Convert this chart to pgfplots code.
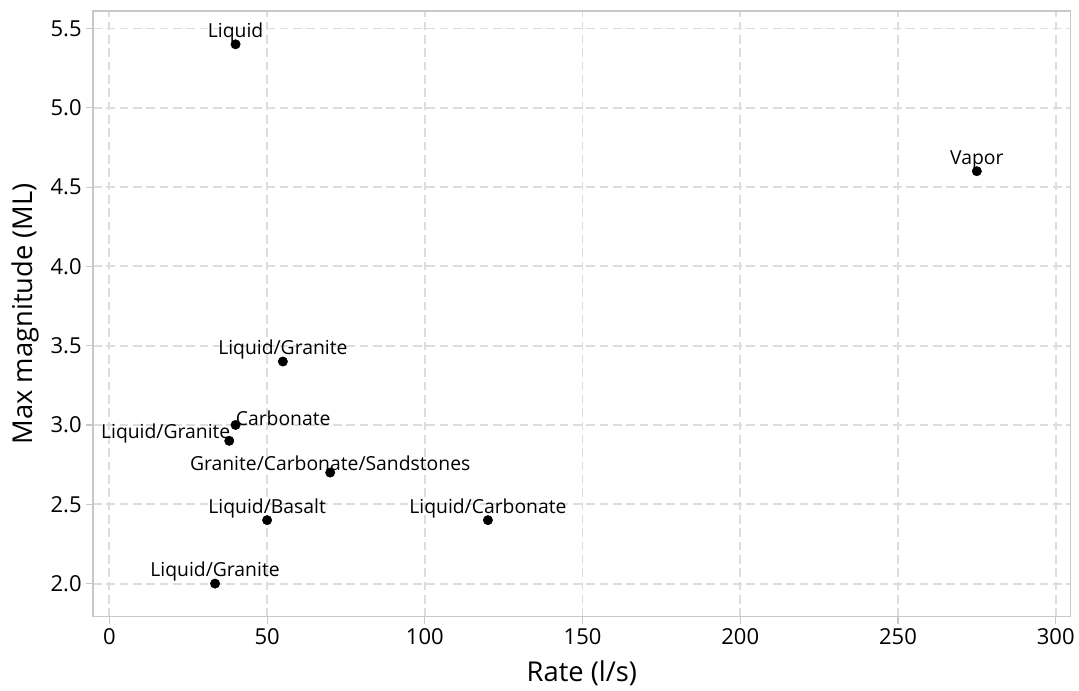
\documentclass[border=0pt]{standalone}
\usepackage{pgfplots}
\pgfplotsset{compat=1.18}
\usepackage{fontspec}
\setmainfont{Open Sans}

\definecolor{gridgray}{HTML}{DDDDDD}
\definecolor{framegray}{HTML}{C8C8C8}

\begin{document}
\begin{tikzpicture}[x=1pt,y=1pt]
\begin{axis}[
  scale only axis,
  width=733.5pt, height=454.5pt,
  xmin=-5.2, xmax=304.8,
  ymin=1.79, ymax=5.61,
  xtick={0,50,...,300},
  ytick={2.0,2.5,...,5.5},
  /pgf/number format/assume math mode=true,
  yticklabel style={/pgf/number format/.cd,fixed,fixed zerofill,precision=1},
  ticklabel style={font=\fontsize{16.5}{19}\selectfont, text=black},
  xlabel={Rate (l/s)},
  ylabel={Max magnitude (ML)},
  label style={font=\fontsize{20.5}{24}\selectfont},
  xlabel style={yshift=-5pt},
  ylabel style={yshift=2pt},
  axis line style={framegray, line width=0.8pt},
  tick style={framegray, line width=0.8pt},
  tick align=outside,
  major tick length=5pt,
  xtick pos=bottom, ytick pos=left,
  grid=major,
  major grid style={gridgray, line width=1.4pt, dash pattern=on 6.5pt off 3.5pt},
  nodes near coords,
  point meta=explicit symbolic,
  every node near coord/.style={font=\fontsize{14.5}{17}\selectfont, text=black, anchor=south, inner sep=1pt},
  clip=false,
]
\addplot[only marks, mark=*, mark size=3.5pt, black,
  visualization depends on={value \thisrow{anc} \as \anc},
  visualization depends on={value \thisrow{dx} \as \dx},
  visualization depends on={value \thisrow{dy} \as \dy},
  every node near coord/.append style={anchor=\anc, xshift=\dx pt, yshift=\dy pt}]
  table[meta=label, col sep=comma] {
x,y,label,anc,dx,dy
40,5.4,Liquid,south,0,0.5
275,4.6,Vapor,south,0,0.5
55,3.4,Liquid/Granite,south,0,0.5
70,2.7,Granite/Carbonate/Sandstones,south,0,0.5
50,2.4,Liquid/Basalt,south,0,0.5
120,2.4,Liquid/Carbonate,south,0,0.5
33.5,2.0,Liquid/Granite,south,0,0.5
40,3.0,Carbonate,south west,-1,-2
38,2.9,Liquid/Granite,south east,2,-3
};
\end{axis}
\path (current axis.south west) ++(-69.75pt,-55.5pt) coordinate (bl);
\path (current axis.north east) ++(6pt,8.25pt) coordinate (tr);
\useasboundingbox (bl) rectangle (tr);
\end{tikzpicture}
\end{document}
